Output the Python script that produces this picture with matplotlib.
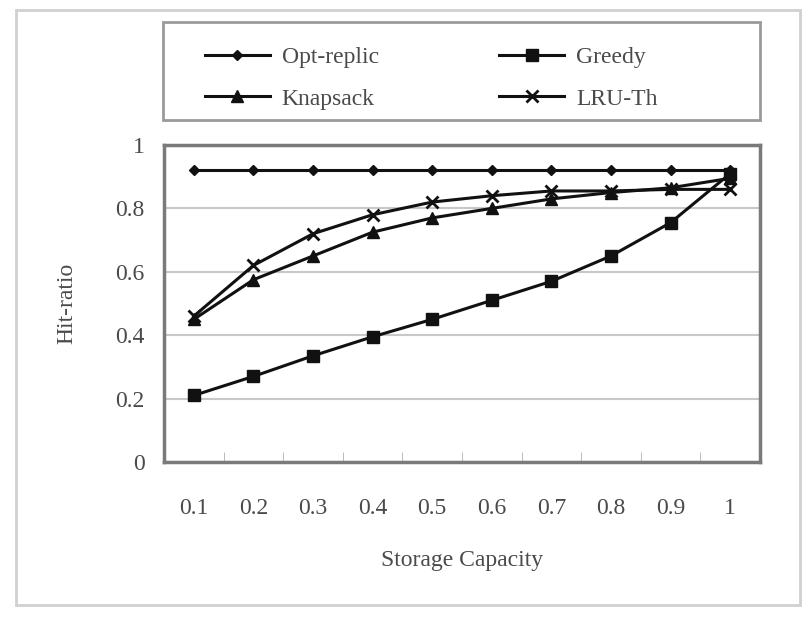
import matplotlib
matplotlib.use("Agg")
import matplotlib.pyplot as plt
from matplotlib.patches import Rectangle
import numpy as np

# data
capacity = ["0.1", "0.2", "0.3", "0.4", "0.5", "0.6", "0.7", "0.8", "0.9", "1"]
opt_replic = [0.92, 0.92, 0.92, 0.92, 0.92, 0.92, 0.92, 0.92, 0.92, 0.92]
greedy = [0.21, 0.27, 0.335, 0.395, 0.45, 0.51, 0.57, 0.65, 0.755, 0.91]
knapsack = [0.45, 0.575, 0.65, 0.725, 0.77, 0.80, 0.83, 0.85, 0.865, 0.895]
lru_th = [0.46, 0.62, 0.72, 0.78, 0.82, 0.84, 0.855, 0.855, 0.86, 0.86]
y_ticks = [0, 0.2, 0.4, 0.6, 0.8, 1]

plt.rcParams["font.family"] = ["Liberation Serif", "DejaVu Serif"]
txt = "#4a4a4a"

fig = plt.figure(figsize=(8.1, 6.19), dpi=100)
ax = fig.add_axes([164 / 810, 1 - 462 / 619, 596 / 810, 317 / 619])

x = np.arange(1, len(capacity) + 1)
lw = 2.2
h_opt, = ax.plot(x, opt_replic, color="#111111", lw=lw, marker="D", ms=5, label="Opt-replic")
h_gr, = ax.plot(x, greedy, color="#111111", lw=lw, marker="s", ms=8, label="Greedy")
h_kn, = ax.plot(x, knapsack, color="#111111", lw=lw, marker="^", ms=8, label="Knapsack")
h_lru, = ax.plot(x, lru_th, color="#111111", lw=lw, marker="x", ms=8, mew=2, label="LRU-Th")

ax.set_xlim(0.5, len(capacity) + 0.5)
ax.set_ylim(0, 1)
ax.set_yticks(y_ticks)
ax.set_yticklabels(["0", "0.2", "0.4", "0.6", "0.8", "1"])
ax.set_xticks(x)
ax.set_xticklabels(capacity)
ax.set_xticks(np.arange(0.5, len(capacity) + 1, 1), minor=True)
ax.tick_params(axis="x", which="major", length=0, pad=26, labelsize=17, labelcolor=txt)
ax.tick_params(axis="x", which="minor", direction="in", length=7, color="#b0b0b0")
ax.tick_params(axis="y", length=0, pad=14, labelsize=17, labelcolor=txt)

ax.grid(axis="y", color="#c8c8c8", lw=1.5)
ax.set_axisbelow(True)
for s in ax.spines.values():
    s.set_color("#7a7a7a")
    s.set_linewidth(2.5)

ax.set_xlabel("Storage Capacity", fontsize=17, color=txt, labelpad=22)
ax.set_ylabel("Hit-ratio", fontsize=17, color=txt, labelpad=27)

# row-wise order: Opt-replic, Greedy / Knapsack, LRU-Th
leg = fig.legend([h_opt, h_kn, h_gr, h_lru], ["Opt-replic", "Knapsack", "Greedy", "LRU-Th"],
                 ncol=2, loc="center left", bbox_to_anchor=(205 / 810, 1 - 78 / 619),
                 borderaxespad=0, borderpad=0, fontsize=17, handlelength=2.75,
                 handletextpad=0.5, columnspacing=5.1, labelspacing=0.85,
                 frameon=False)
for t in leg.get_texts():
    t.set_color(txt)

# legend box and outer chart border
fig.patches.append(Rectangle((163 / 810, 1 - 120 / 619), 597 / 810, 98 / 619,
                             transform=fig.transFigure, fill=False,
                             edgecolor="#9a9a9a", lw=2))
fig.patches.append(Rectangle((16 / 810, 1 - 605 / 619), 784 / 810, 595 / 619,
                             transform=fig.transFigure, fill=False,
                             edgecolor="#d0d0d0", lw=2))

fig.savefig("out.png", dpi=100, facecolor="white")
